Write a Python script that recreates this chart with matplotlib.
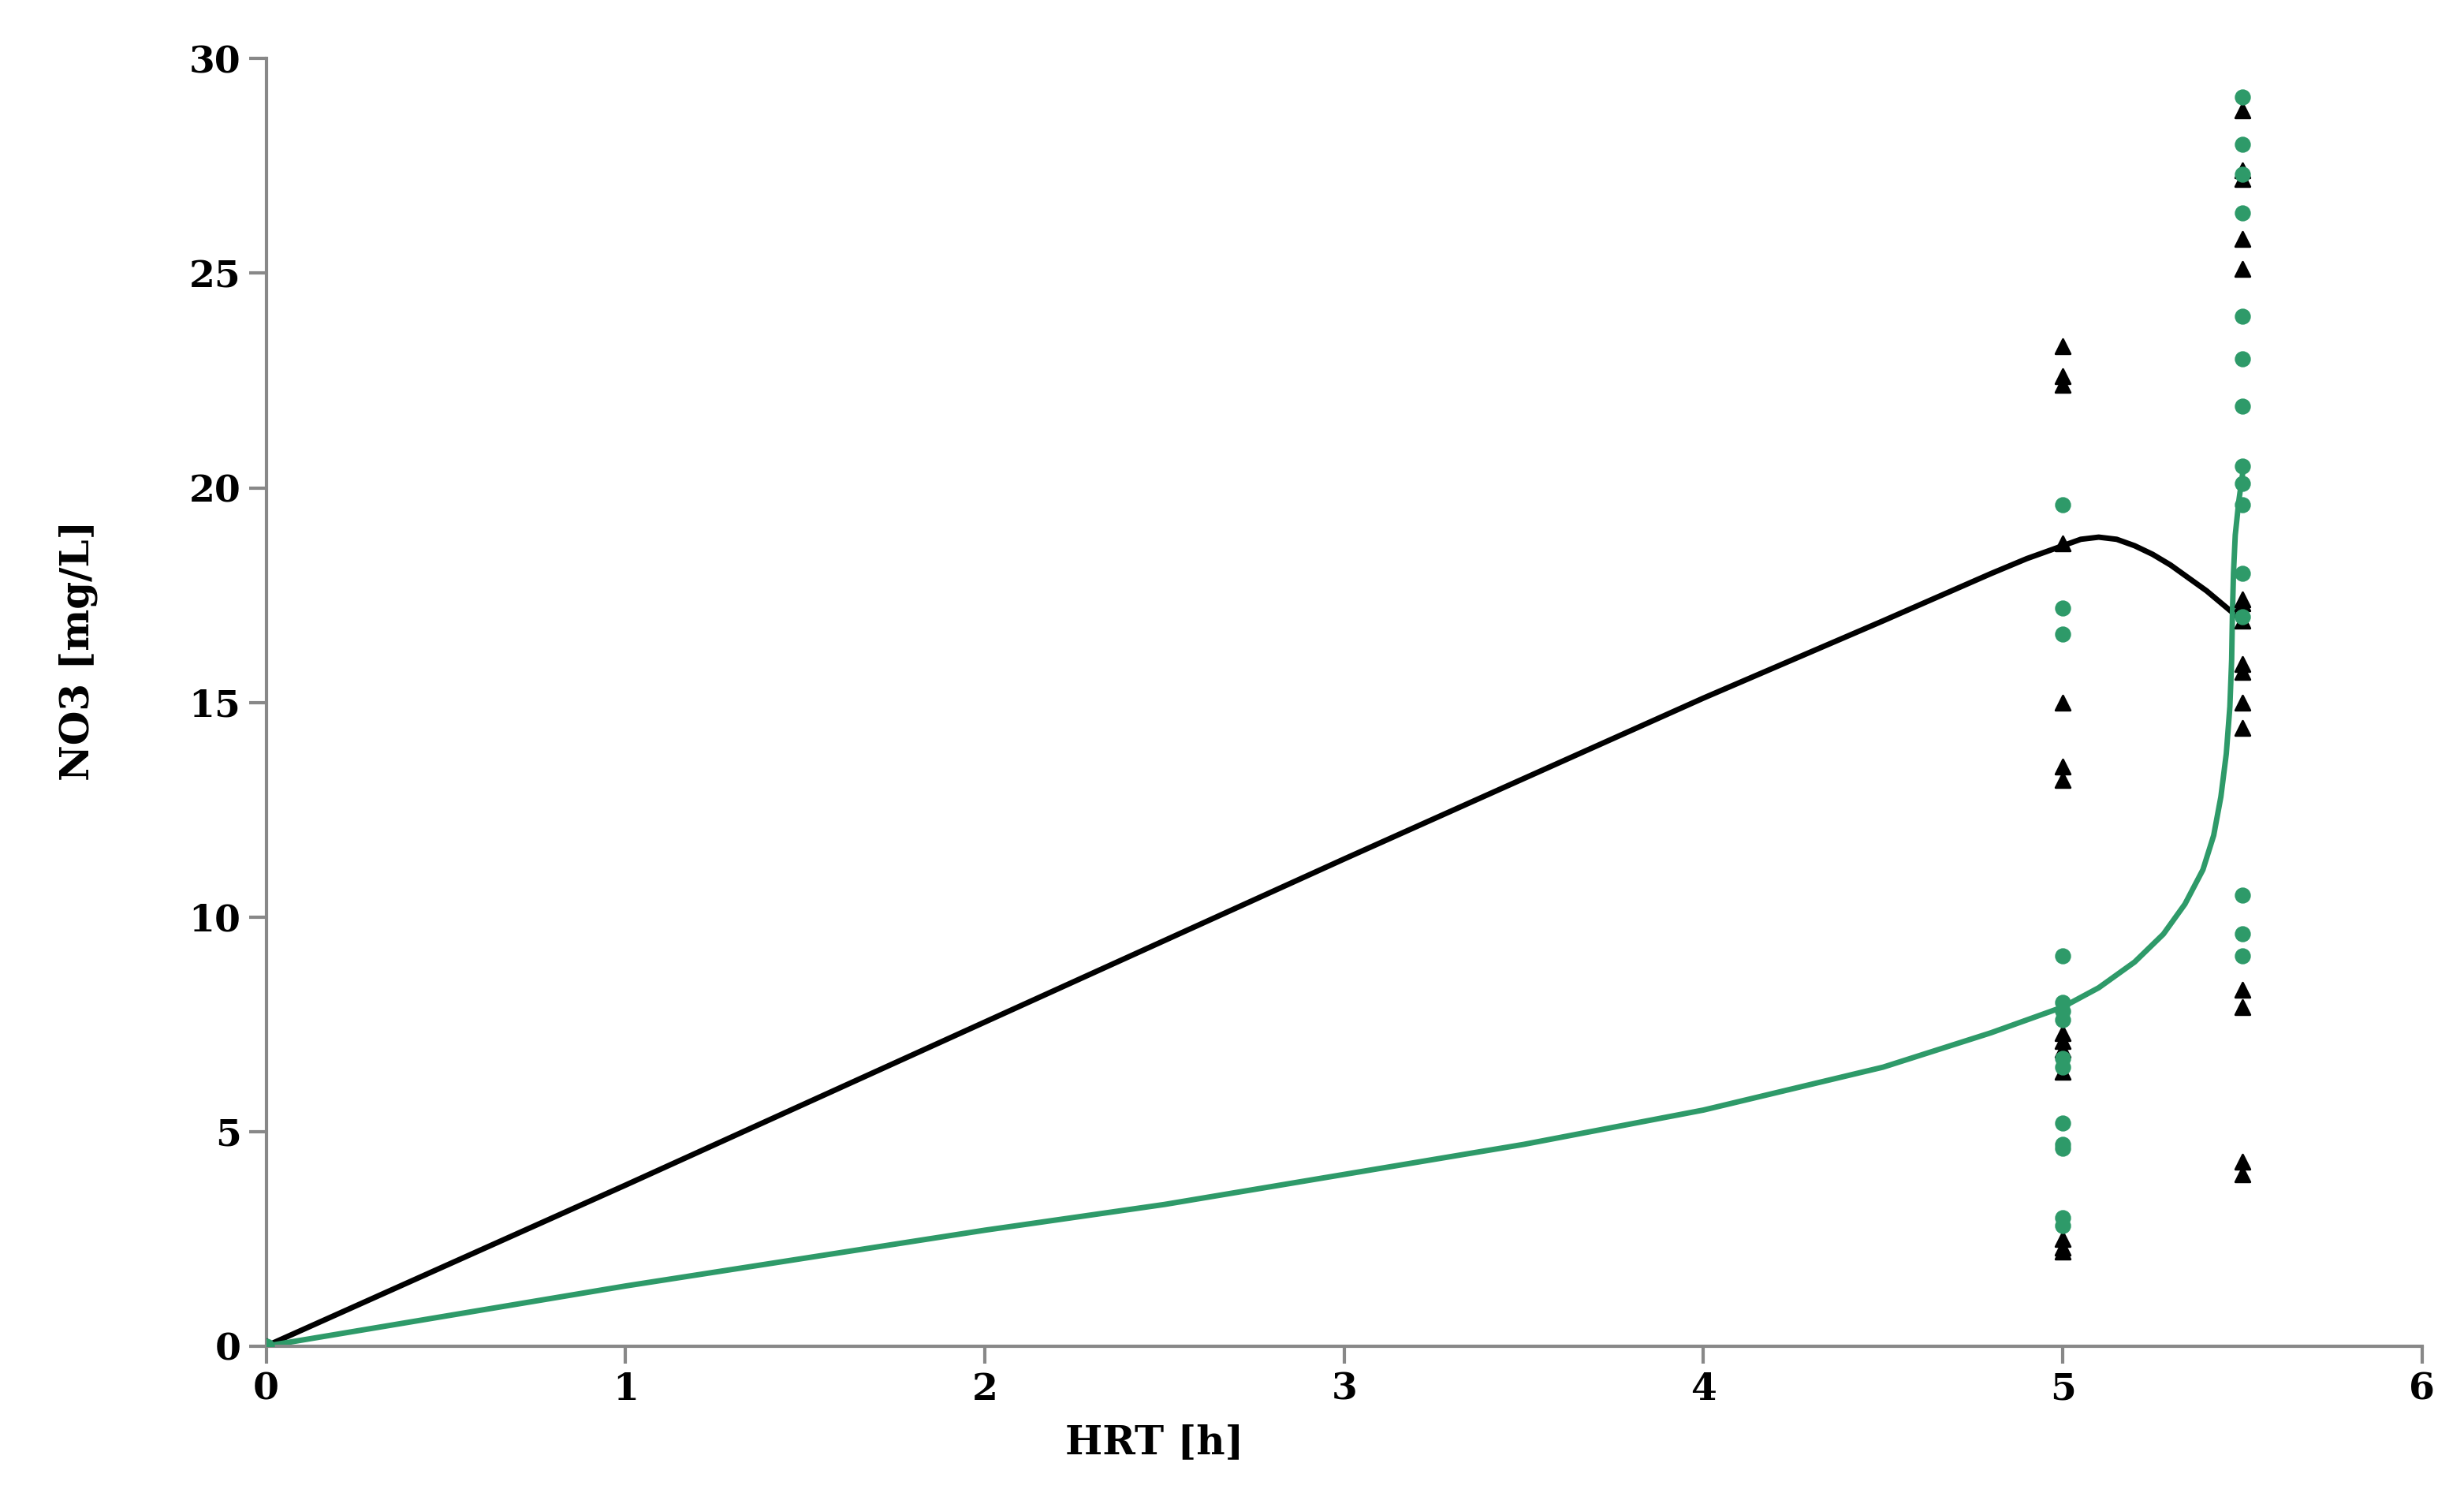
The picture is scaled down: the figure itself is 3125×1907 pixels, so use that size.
import matplotlib.pyplot as plt

# measured points
black_5 = [23.3, 22.6, 22.4, 18.7, 15.0, 13.5, 13.2, 7.3, 7.1, 6.9, 6.4, 2.5, 2.3, 2.2]
green_5 = [19.6, 17.2, 16.6, 9.1, 8.0, 7.8, 7.6, 6.7, 6.5, 5.2, 4.7, 4.6, 3.0, 2.8]
black_55 = [28.8, 27.4, 27.2, 25.8, 25.1, 17.4, 17.3, 16.9, 15.9, 15.7, 15.0, 14.4, 8.3, 7.9, 4.3, 4.0]
green_55 = [29.1, 28.0, 27.3, 26.4, 24.0, 23.0, 21.9, 20.5, 20.1, 19.6, 18.0, 17.0, 10.5, 9.6, 9.1]

# model curves
black_cx = [0, 1, 2, 3, 4, 4.5, 4.8, 4.9, 5, 5.05, 5.1, 5.15, 5.2, 5.25, 5.3, 5.35, 5.4, 5.45, 5.5]
black_cy = [0, 3.75, 7.55, 11.35, 15.1, 16.9, 18.0, 18.35, 18.65, 18.8, 18.85, 18.8, 18.65, 18.45, 18.2, 17.9, 17.6, 17.25, 16.9]
green_cx = [0, 0.5, 1, 1.5, 2, 2.5, 3, 3.5, 4, 4.5, 4.8, 5, 5.1, 5.2, 5.28, 5.34, 5.39, 5.42, 5.44, 5.455, 5.465, 5.47, 5.472, 5.475, 5.48, 5.49, 5.5]
green_cy = [0, 0.7, 1.4, 2.05, 2.7, 3.3, 4.0, 4.7, 5.5, 6.5, 7.3, 7.9, 8.35, 8.95, 9.6, 10.3, 11.1, 11.9, 12.8, 13.8, 14.9, 16.0, 17.0, 18.0, 18.9, 19.7, 20.3]

green = '#2e9a69'
plt.rcParams['font.family'] = ['DejaVu Serif']

fig = plt.figure(figsize=(15.625, 9.535), dpi=200)
ax = fig.add_axes([0.108, 0.105, 0.875, 0.856])

ax.plot(black_cx, black_cy, color='black', lw=2.5)
ax.plot(green_cx, green_cy, color=green, lw=2.5)
ax.scatter([5] * len(black_5), black_5, marker='^', color='black', s=45, zorder=3)
ax.scatter([5.5] * len(black_55), black_55, marker='^', color='black', s=45, zorder=3)
ax.scatter([5] * len(green_5), green_5, marker='o', color=green, s=40, zorder=3)
ax.scatter([5.5] * len(green_55), green_55, marker='o', color=green, s=40, zorder=3)
ax.scatter([0], [0], marker='^', color='black', s=45, zorder=3)
ax.scatter([0], [0], marker='o', color=green, s=40, zorder=3)

ax.set_xlim(0, 6)
ax.set_ylim(0, 30)
ax.set_xticks(range(0, 7))
ax.set_yticks(range(0, 31, 5))
for s in ['top', 'right']:
    ax.spines[s].set_visible(False)
for s in ['left', 'bottom']:
    ax.spines[s].set_color('#888888')
    ax.spines[s].set_linewidth(1.5)
ax.tick_params(colors='#888888', width=1.5, length=8, labelcolor='black', labelsize=17)
for lab in ax.get_xticklabels() + ax.get_yticklabels():
    lab.set_fontweight('bold')
ax.set_xlabel('HRT [h]', fontsize=18, fontweight='bold', labelpad=2)
ax.xaxis.set_label_coords(0.412, -0.06)
ax.set_ylabel('NO3 [mg/L]', fontsize=18, fontweight='bold')
ax.yaxis.set_label_coords(-0.078, 0.54)

fig.savefig('out.png', dpi=200)
